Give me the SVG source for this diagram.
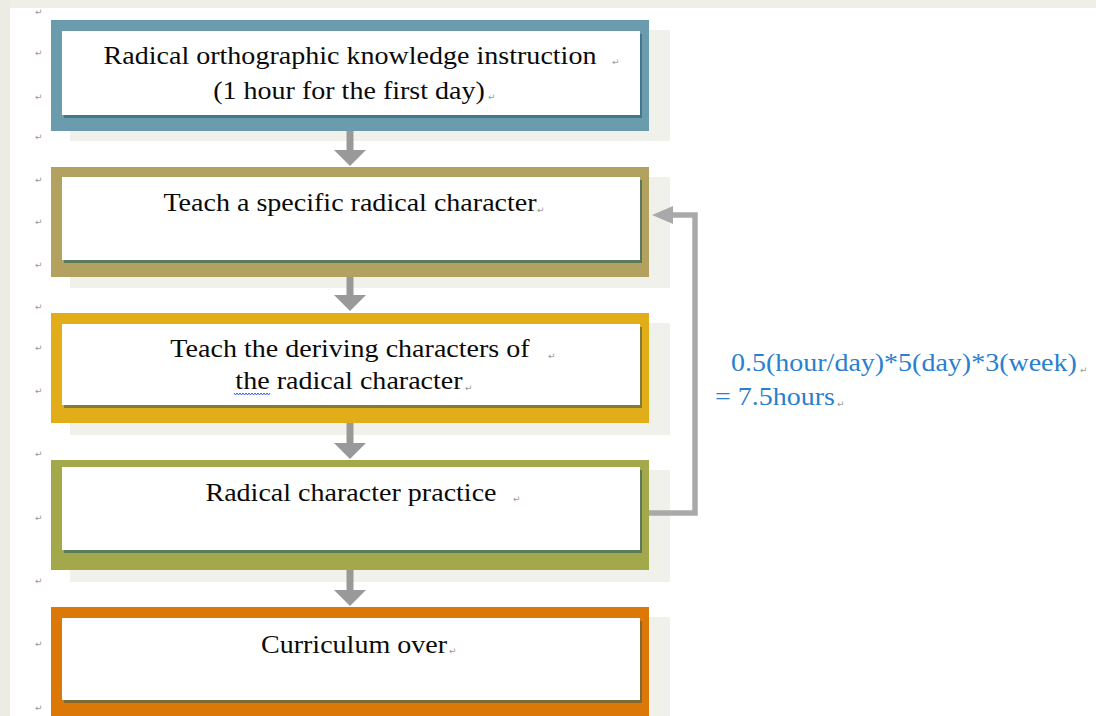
<svg xmlns="http://www.w3.org/2000/svg" width="1096" height="716" viewBox="0 0 1096 716">
<style>
.plate{fill:#f1f1ec}
.inner{fill:#ffffff}
.lbl{font-family:"Liberation Serif","Times New Roman",serif;font-size:25.5px;fill:#0a0a0a}
.blue{font-family:"Liberation Serif","Times New Roman",serif;font-size:25px;fill:#2a7fd0}
.pm{font-family:"DejaVu Sans",sans-serif;font-size:9px;fill:#9a9a9a}
.arrow{stroke:#999999;stroke-width:7;fill:none}
.fb{stroke:#a9a9a9;stroke-width:5.5;fill:none}
</style>
<defs>
<marker id="ah" markerUnits="userSpaceOnUse" markerWidth="16" markerHeight="32" viewBox="0 0 16 32" refX="0" refY="16" orient="auto">
<path d="M0,0 L16,16 L0,32 Z" fill="#999999"/>
</marker>
<marker id="fbh" markerUnits="userSpaceOnUse" markerWidth="21" markerHeight="18" viewBox="0 0 21 18" refX="0" refY="9" orient="auto">
<path d="M0,0 L21,9 L0,18 Z" fill="#a9a9a9"/>
</marker>
</defs>
<rect x="0" y="0" width="1096" height="716" fill="#ffffff"/>
<rect x="0" y="0" width="1096" height="8" fill="#efeee7"/>
<rect x="0" y="0" width="10" height="716" fill="#ecebe4"/>

<g id="margin-marks" class="pm">
<text x="35" y="15">↵</text><text x="35" y="56">↵</text><text x="35" y="100">↵</text>
<text x="35" y="140">↵</text><text x="35" y="183">↵</text><text x="35" y="225">↵</text>
<text x="35" y="268">↵</text><text x="35" y="310">↵</text><text x="35" y="351">↵</text>
<text x="35" y="394">↵</text><text x="35" y="457">↵</text><text x="35" y="521">↵</text>
<text x="35" y="584">↵</text><text x="35" y="647">↵</text><text x="35" y="711">↵</text>
</g>

<g id="node1">
<rect class="plate" x="70" y="30" width="600" height="111"/>
<rect x="51" y="20" width="598" height="111" fill="#6b9cad"/>
<rect x="64" y="34" width="578" height="84" fill="#41788a"/>
<rect class="inner" x="62" y="31" width="578" height="84"/>
<text class="lbl" text-anchor="middle" transform="translate(350,64) scale(1.1,1)">Radical orthographic knowledge instruction</text>
<text class="lbl" text-anchor="middle" transform="translate(349,99) scale(1.1,1)">(1 hour for the first day)</text>
<text class="pm" x="612" y="65">↵</text>
<text class="pm" x="488" y="100">↵</text>
</g>

<g id="node2">
<rect class="plate" x="70" y="177" width="600" height="111"/>
<rect x="51" y="167" width="598" height="110" fill="#b2a15f"/>
<rect x="64" y="180" width="578" height="83" fill="#5b7a5c"/>
<rect class="inner" x="62" y="177" width="578" height="83"/>
<text class="lbl" text-anchor="middle" transform="translate(350,211) scale(1.1,1)">Teach a specific radical character</text>
<text class="pm" x="537" y="213">↵</text>
</g>

<g id="node3">
<rect class="plate" x="70" y="323" width="600" height="112"/>
<rect x="51" y="313" width="598" height="110" fill="#e1ad18"/>
<rect x="64" y="327" width="578" height="81" fill="#847a3a"/>
<rect class="inner" x="62" y="324" width="578" height="81"/>
<text class="lbl" text-anchor="middle" transform="translate(350,357) scale(1.1,1)">Teach the deriving characters of</text>
<text class="lbl" text-anchor="middle" transform="translate(349,389) scale(1.1,1)">the radical character</text>
<text class="pm" x="548" y="359">↵</text>
<text class="pm" x="465" y="391">↵</text>
<path d="M234,393 l1.5,2 l1.5,-2 l1.5,2 l1.5,-2 l1.5,2 l1.5,-2 l1.5,2 l1.5,-2 l1.5,2 l1.5,-2 l1.5,2 l1.5,-2 l1.5,2 l1.5,-2 l1.5,2 l1.5,-2 l1.5,2 l1.5,-2 l1.5,2 l1.5,-2 l1.5,2 l1.5,-2 l1.5,2 l1.5,-2" fill="none" stroke="#3d5bea" stroke-width="1"/>
</g>

<g id="node4">
<rect class="plate" x="70" y="470" width="600" height="112"/>
<rect x="51" y="460" width="598" height="110" fill="#a3a84b"/>
<rect x="64" y="470" width="578" height="83" fill="#5a7d58"/>
<rect class="inner" x="62" y="467" width="578" height="83"/>
<text class="lbl" text-anchor="middle" transform="translate(351,501) scale(1.1,1)">Radical character practice</text>
<text class="pm" x="513" y="502">↵</text>
</g>

<g id="node5">
<rect class="plate" x="70" y="617" width="600" height="110"/>
<rect x="51" y="607" width="598" height="120" fill="#db7807"/>
<rect x="64" y="621" width="578" height="82" fill="#7f6a35"/>
<rect class="inner" x="62" y="618" width="578" height="82"/>
<text class="lbl" text-anchor="middle" transform="translate(354,653) scale(1.1,1)">Curriculum over</text>
<text class="pm" x="449" y="654">↵</text>
</g>

<g id="connectors">
<line class="arrow" x1="350" y1="131" x2="350" y2="150" marker-end="url(#ah)"/>
<line class="arrow" x1="350" y1="277" x2="350" y2="295" marker-end="url(#ah)"/>
<line class="arrow" x1="350" y1="423" x2="350" y2="443" marker-end="url(#ah)"/>
<line class="arrow" x1="350" y1="570" x2="350" y2="590" marker-end="url(#ah)"/>
<polyline class="fb" points="649,513 695,513 695,215 673,215" marker-end="url(#fbh)"/>
</g>

<g id="note">
<text class="blue" transform="translate(731,371) scale(1.12,1)">0.5(hour/day)*5(day)*3(week)</text>
<text class="blue" transform="translate(715,405) scale(1.12,1)">= 7.5hours</text>
<text class="pm" x="1080" y="373">↵</text>
<text class="pm" x="837" y="407">↵</text>
</g>
</svg>
